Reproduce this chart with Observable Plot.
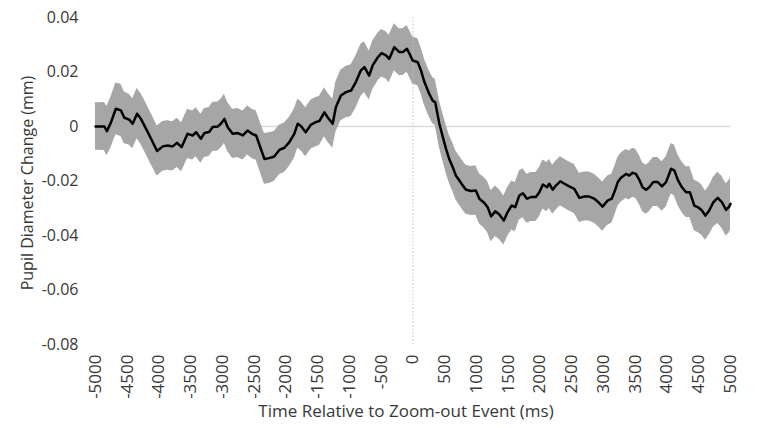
<!DOCTYPE html>
<html><head><meta charset="utf-8">
<script src="https://cdn.jsdelivr.net/npm/d3@7"></script>
<script src="https://cdn.jsdelivr.net/npm/@observablehq/plot@0.6"></script>
<style>body{margin:0;background:#fff} #chart{width:769px;height:428px}</style>
</head><body><div id="chart"></div>
<script>
// Time relative to zoom-out event (ms)
const times = [
  -5000, -4860, -4820, -4755, -4680, -4600, -4545, -4470, -4415, -4345,
  -4285, -4205, -4125, -4030, -3940, -3865, -3785, -3715, -3645, -3550,
  -3470, -3415, -3340, -3285, -3210, -3155, -3075, -3025, -2970, -2920,
  -2840, -2760, -2680, -2605, -2535, -2470, -2405, -2340, -2265, -2185,
  -2105, -2025, -1950, -1870, -1815, -1765, -1690, -1605, -1530, -1475,
  -1395, -1345, -1265, -1215, -1135, -1055, -975, -900, -820, -765,
  -690, -635, -555, -495, -425, -375, -295, -215, -160, -95,
  -55, -5, 75, 125, 180, 255, 310, 350, 415, 470,
  520, 570, 625, 675, 730, 785, 835, 915, 990, 1045,
  1125, 1175, 1230, 1295, 1360, 1430, 1490, 1555, 1610, 1675,
  1730, 1795, 1860, 1935, 1990, 2045, 2110, 2145, 2200, 2250,
  2320, 2385, 2460, 2540, 2620, 2700, 2775, 2855, 2920, 2985,
  3065, 3130, 3180, 3225, 3275, 3355, 3405, 3460, 3510, 3565,
  3615, 3670, 3720, 3785, 3855, 3920, 3985, 4065, 4115, 4170,
  4235, 4300, 4360, 4430, 4500, 4550, 4605, 4665, 4730, 4800,
  4865, 4930, 4980, 5000
];
// Mean pupil diameter change (mm)
const means = [
  0.0000, 0.0000, -0.0017, 0.0016, 0.0065, 0.0059, 0.0032, 0.0025, 0.0010, 0.0047,
  0.0028, -0.0008, -0.0045, -0.0090, -0.0073, -0.0070, -0.0073, -0.0060, -0.0076, -0.0027,
  -0.0033, -0.0021, -0.0045, -0.0024, -0.0020, -0.0002, 0.0000, 0.0010, 0.0028, -0.0002,
  -0.0027, -0.0024, -0.0033, -0.0015, -0.0027, -0.0033, -0.0076, -0.0119, -0.0116, -0.0110,
  -0.0086, -0.0078, -0.0058, -0.0027, 0.0010, 0.0002, -0.0021, 0.0007, 0.0016, 0.0020,
  0.0052, 0.0034, 0.0010, 0.0071, 0.0114, 0.0126, 0.0132, 0.0163, 0.0206, 0.0218,
  0.0187, 0.0224, 0.0254, 0.0269, 0.0261, 0.0248, 0.0291, 0.0273, 0.0273, 0.0285,
  0.0267, 0.0242, 0.0236, 0.0206, 0.0163, 0.0120, 0.0095, 0.0089, 0.0010, -0.0039,
  -0.0082, -0.0119, -0.0149, -0.0180, -0.0198, -0.0217, -0.0232, -0.0237, -0.0235, -0.0265,
  -0.0281, -0.0296, -0.0330, -0.0311, -0.0323, -0.0345, -0.0314, -0.0290, -0.0296, -0.0253,
  -0.0245, -0.0265, -0.0259, -0.0259, -0.0241, -0.0213, -0.0223, -0.0210, -0.0232, -0.0217,
  -0.0201, -0.0210, -0.0220, -0.0229, -0.0262, -0.0257, -0.0257, -0.0265, -0.0278, -0.0294,
  -0.0272, -0.0265, -0.0235, -0.0204, -0.0188, -0.0174, -0.0180, -0.0170, -0.0174, -0.0196,
  -0.0223, -0.0232, -0.0223, -0.0204, -0.0204, -0.0220, -0.0204, -0.0155, -0.0161, -0.0196,
  -0.0223, -0.0241, -0.0241, -0.0290, -0.0298, -0.0308, -0.0327, -0.0308, -0.0278, -0.0262,
  -0.0278, -0.0306, -0.0294, -0.0284
];
// Half-width of the shaded error band (mm)
const halfWidths = [
  0.0087, 0.0088, 0.0090, 0.0093, 0.0095, 0.0096, 0.0095, 0.0093, 0.0092, 0.0092,
  0.0093, 0.0094, 0.0094, 0.0092, 0.0091, 0.0091, 0.0090, 0.0090, 0.0090, 0.0090,
  0.0090, 0.0090, 0.0090, 0.0090, 0.0090, 0.0090, 0.0090, 0.0090, 0.0090, 0.0090,
  0.0090, 0.0090, 0.0090, 0.0090, 0.0090, 0.0091, 0.0092, 0.0093, 0.0093, 0.0092,
  0.0091, 0.0091, 0.0090, 0.0090, 0.0090, 0.0090, 0.0090, 0.0090, 0.0090, 0.0090,
  0.0090, 0.0090, 0.0090, 0.0092, 0.0093, 0.0094, 0.0095, 0.0096, 0.0096, 0.0093,
  0.0090, 0.0089, 0.0088, 0.0087, 0.0087, 0.0087, 0.0086, 0.0086, 0.0086, 0.0086,
  0.0086, 0.0086, 0.0086, 0.0085, 0.0085, 0.0085, 0.0085, 0.0085, 0.0086, 0.0087,
  0.0088, 0.0088, 0.0089, 0.0089, 0.0090, 0.0090, 0.0090, 0.0090, 0.0091, 0.0092,
  0.0093, 0.0094, 0.0094, 0.0093, 0.0092, 0.0090, 0.0090, 0.0090, 0.0090, 0.0090,
  0.0090, 0.0090, 0.0090, 0.0090, 0.0090, 0.0090, 0.0090, 0.0090, 0.0090, 0.0090,
  0.0090, 0.0090, 0.0090, 0.0090, 0.0090, 0.0090, 0.0090, 0.0090, 0.0090, 0.0090,
  0.0090, 0.0090, 0.0090, 0.0090, 0.0090, 0.0090, 0.0090, 0.0090, 0.0090, 0.0090,
  0.0090, 0.0090, 0.0090, 0.0090, 0.0090, 0.0091, 0.0092, 0.0093, 0.0093, 0.0093,
  0.0093, 0.0093, 0.0093, 0.0093, 0.0093, 0.0092, 0.0090, 0.0090, 0.0092, 0.0094,
  0.0095, 0.0096, 0.0097, 0.0097
];
const xTicks = [-5000, -4500, -4000, -3500, -3000, -2500, -2000, -1500, -1000, -500, 0,
                500, 1000, 1500, 2000, 2500, 3000, 3500, 4000, 4500, 5000];
const yTicks = [0.04, 0.02, 0, -0.02, -0.04, -0.06, -0.08];
const xTitle = "Time Relative to Zoom-out Event (ms)";
const yTitle = "Pupil Diameter Change (mm)";

const data = times.map((t, i) => ({t, m: means[i], lo: means[i] - halfWidths[i], hi: means[i] + halfWidths[i]}));
const textColor = "#383838";
const font = "'Open Sans', sans-serif";

const chart = Plot.plot({
  width: 769, height: 428,
  marginLeft: 95, marginRight: 39, marginTop: 17, marginBottom: 84,
  style: {fontFamily: font, fontSize: "16px", color: textColor, background: "white", overflow: "visible"},
  x: {domain: [-5000, 5000]},
  y: {domain: [-0.08, 0.04]},
  marks: [
    Plot.ruleY([0], {stroke: "#d9d9d9", strokeWidth: 1.5}),
    Plot.areaY(data, {x: "t", y1: "lo", y2: "hi", fill: "#a6a6a6"}),
    Plot.ruleX([0], {y1: 0.04, y2: -0.08, stroke: "#bfbfbf", strokeWidth: 1, strokeDasharray: "1.5,2"}),
    Plot.line(data, {x: "t", y: "m", stroke: "#000", strokeWidth: 2.5}),
    Plot.axisX({ticks: xTicks, tickFormat: d => String(d), tickRotate: -90, tickSize: 0, tickPadding: 10,
                label: null, fontSize: 17, fill: textColor}),
    Plot.axisY({ticks: yTicks, tickFormat: d => d === 0 ? "0" : d.toFixed(2), tickSize: 0, tickPadding: 17,
                label: null, fontSize: 16, fill: textColor}),
    Plot.text([xTitle], {text: d => d, frameAnchor: "bottom", dy: 67, dx: -7, lineAnchor: "middle",
                         textAnchor: "middle", fontSize: 17, fill: textColor, fontFamily: font}),
    Plot.text([yTitle], {text: d => d, frameAnchor: "left", dx: -68, dy: 2, rotate: -90, lineAnchor: "middle",
                         textAnchor: "middle", fontSize: 16, fill: textColor, fontFamily: font})
  ]
});
document.getElementById("chart").appendChild(chart);
</script>
</body></html>
